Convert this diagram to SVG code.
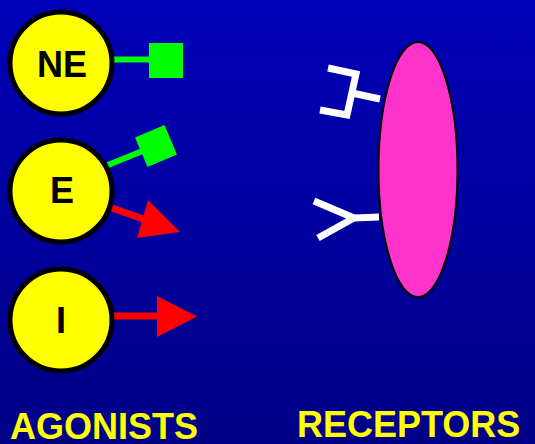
<svg xmlns="http://www.w3.org/2000/svg" width="535" height="444" viewBox="0 0 535 444">
<defs>
<linearGradient id="bg" x1="0" y1="0" x2="0" y2="1">
<stop offset="0" stop-color="#0000b8"/>
<stop offset="1" stop-color="#000086"/>
</linearGradient>
<style>
.agonist{fill:#ffff00;stroke:#000;stroke-width:5}
.lbl{font-family:"Liberation Sans",Arial,sans-serif;font-weight:bold;font-size:36px;fill:#000;text-anchor:middle}
.title{font-family:"Liberation Sans",Arial,sans-serif;font-weight:bold;font-size:36px;fill:#ffff00}
.green{stroke:#00ff00;stroke-width:6;fill:none}
.red{stroke:#ff0000;stroke-width:7;fill:none}
.rec{stroke:#fff;stroke-width:7;fill:none;stroke-linejoin:miter}
</style>
</defs>
<rect width="535" height="444" fill="url(#bg)"/>
<g id="connectors">
<line class="green" x1="113" y1="59.5" x2="152" y2="59.5"/>
<rect x="149" y="43" width="34" height="35" fill="#00ff00"/>
<line class="green" x1="108" y1="165" x2="145" y2="150"/>
<rect x="140" y="130" width="32" height="32" fill="#00ff00" transform="rotate(-23 156 146)"/>
<line class="red" x1="112" y1="208" x2="146" y2="220"/>
<polygon points="148,200 180,232 137,238" fill="#ff0000"/>
<line class="red" x1="113" y1="316" x2="160" y2="316"/>
<polygon points="157,296 197,316.5 157,337" fill="#ff0000"/>
</g>
<g id="NE">
<circle class="agonist" cx="61" cy="63" r="51"/>
<text class="lbl" x="62" y="77">NE</text>
</g>
<g id="E">
<circle class="agonist" cx="61" cy="191" r="51"/>
<text class="lbl" x="62" y="203">E</text>
</g>
<g id="I">
<circle class="agonist" cx="61" cy="320" r="51"/>
<text class="lbl" x="61" y="333">I</text>
</g>
<g id="receptor-membrane">
<ellipse cx="418" cy="169.5" rx="39.5" ry="127.5" fill="#ff33cc" stroke="#000" stroke-width="2"/>
</g>
<g id="receptor-bracket">
<polyline class="rec" points="328,68 356,74 347,115 320,110"/>
<line class="rec" x1="352" y1="93" x2="380" y2="99"/>
</g>
<g id="receptor-y">
<line class="rec" x1="354" y1="218" x2="379" y2="217"/>
<polyline class="rec" points="314,201 354,218 318,238"/>
</g>
<text class="title" x="10" y="439">AGONISTS</text>
<text class="title" x="297" y="437">RECEPTORS</text>
</svg>
